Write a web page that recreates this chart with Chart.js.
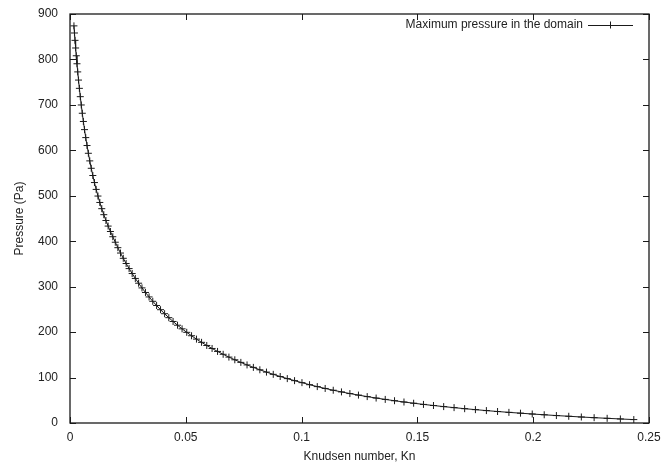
<!DOCTYPE html>
<html>
<head>
<meta charset="utf-8">
<script src="https://cdn.jsdelivr.net/npm/chart.js@4.4.0/dist/chart.umd.min.js"></script>
<style>
	body { margin: 0; background: #fff; }
</style>
</head>
<body>
<canvas id="mycanvas" width="662" height="464"></canvas>
<script>
// Knudsen number of each run and the maximum pressure found in the domain (Pa)
var knudsen = [0.001702, 0.001925, 0.002167, 0.002428, 0.002709, 0.003011, 0.003335, 0.003681, 0.004050, 0.004443,
	0.004861, 0.005304, 0.005774, 0.006270, 0.006794, 0.007347, 0.007928, 0.008540, 0.009182, 0.009855,
	0.010561, 0.011300, 0.012072, 0.012879, 0.013720, 0.014598, 0.015513, 0.016465, 0.017455, 0.018483,
	0.019552, 0.020661, 0.021811, 0.023003, 0.024238, 0.025516, 0.026838, 0.028205, 0.029618, 0.031078,
	0.032584, 0.034138, 0.035741, 0.037394, 0.039096, 0.040850, 0.042655, 0.044512, 0.046423, 0.048388,
	0.050407, 0.052482, 0.054612, 0.056800, 0.059046, 0.061349, 0.063712, 0.066135, 0.068619, 0.071164,
	0.073771, 0.076441, 0.079174, 0.081973, 0.084836, 0.087765, 0.090761, 0.093824, 0.096955, 0.100156,
	0.103426, 0.106766, 0.110178, 0.113661, 0.117217, 0.120847, 0.124550, 0.128329, 0.132183, 0.136114,
	0.140122, 0.144207, 0.148372, 0.152616, 0.156940, 0.161344, 0.165831, 0.170400, 0.175052, 0.179788,
	0.184609, 0.189515, 0.194507, 0.199586, 0.204753, 0.210008, 0.215352, 0.220787, 0.226312, 0.231928,
	0.237637, 0.243438];
var pressure = [873.9, 858.2, 842.0, 825.2, 808.1, 790.5, 772.6, 754.6, 736.4, 718.1,
	699.8, 681.6, 663.5, 645.6, 628.0, 610.6, 593.5, 576.8, 560.5, 544.6,
	529.1, 514.0, 499.4, 485.3, 471.6, 458.4, 445.6, 433.3, 421.4, 409.9,
	397.8, 385.8, 374.0, 362.4, 351.0, 339.8, 328.9, 318.1, 307.6, 297.3,
	287.2, 277.4, 267.8, 258.5, 249.3, 240.5, 231.8, 223.4, 215.2, 207.2,
	199.5, 192.0, 184.6, 177.5, 170.6, 164.0, 157.5, 151.2, 145.0, 139.1,
	133.4, 127.8, 122.4, 117.1, 112.0, 107.1, 102.3, 97.7, 93.2, 88.8,
	84.3, 80.1, 76.0, 72.1, 68.4, 64.8, 61.4, 58.1, 54.9, 51.9,
	49.0, 46.2, 43.5, 40.9, 38.5, 36.1, 33.8, 31.5, 29.4, 27.3,
	25.3, 23.4, 21.6, 19.8, 18.1, 16.4, 14.8, 13.2, 11.7, 10.3,
	8.9, 7.5];

var xTicks = [0, 0.05, 0.1, 0.15, 0.2, 0.25];
var xTickLabels = ["0", "0.05", "0.1", "0.15", "0.2", "0.25"];
var yTicks = [0, 100, 200, 300, 400, 500, 600, 700, 800, 900];
var yTickLabels = ["0", "100", "200", "300", "400", "500", "600", "700", "800", "900"];
var seriesLabel = "Maximum pressure in the domain";

var ink = "#1a1a1a";
Chart.defaults.font.family = "'Liberation Sans', Arial, sans-serif";
Chart.defaults.font.size = 12;
Chart.defaults.color = "#222";

var points = [];
for (var i in knudsen) {
	points.push({x: knudsen[i], y: pressure[i]});
}

// border, inward ticks on all four sides and the key in the top right corner
var frame = {
	id: "frame",
	afterDatasetsDraw: function(chart) {
		var ctx = chart.ctx;
		var a = chart.chartArea;
		var xs = chart.scales.x, ys = chart.scales.y;
		var tl = 6;
		ctx.save();
		ctx.strokeStyle = ink;
		ctx.lineWidth = 1;
		ctx.beginPath();
		yTicks.forEach(function(v) {
			var py = Math.round(ys.getPixelForValue(v)) + 0.5;
			ctx.moveTo(a.left, py); ctx.lineTo(a.left + tl, py);
			ctx.moveTo(a.right, py); ctx.lineTo(a.right - tl, py);
		});
		xTicks.forEach(function(v) {
			var px = Math.round(xs.getPixelForValue(v)) + 0.5;
			ctx.moveTo(px, a.bottom); ctx.lineTo(px, a.bottom - tl);
			ctx.moveTo(px, a.top); ctx.lineTo(px, a.top + tl);
		});
		ctx.stroke();
		ctx.lineWidth = 1.3;
		ctx.strokeRect(a.left, a.top, a.right - a.left, a.bottom - a.top);

		// key
		var ky = a.top + 11;
		var x1 = a.right - 61, x2 = a.right - 16;
		ctx.fillStyle = "#222";
		ctx.font = "12px 'Liberation Sans', Arial, sans-serif";
		ctx.textAlign = "right";
		ctx.textBaseline = "middle";
		ctx.fillText(chart.data.datasets[0].label, x1 - 5, ky);
		ctx.lineWidth = 1;
		ctx.beginPath();
		ctx.moveTo(x1, ky + 0.5); ctx.lineTo(x2, ky + 0.5);
		var cx = (x1 + x2) / 2;
		ctx.moveTo(cx, ky - 3.5); ctx.lineTo(cx, ky + 3.5);
		ctx.stroke();
		ctx.restore();
	}
};

var ctx = document.getElementById("mycanvas");
var chart = new Chart(ctx, {
	type: "line",
	data: {
		datasets: [{
			label: seriesLabel,
			data: points,
			borderColor: ink,
			borderWidth: 1,
			backgroundColor: ink,
			pointStyle: "cross",
			pointRadius: 3.5,
			pointBorderWidth: 1,
			pointBorderColor: ink,
			tension: 0,
			fill: false
		}]
	},
	options: {
		responsive: false,
		animation: false,
		devicePixelRatio: 1,
		events: [],
		layout: { padding: { top: 14, right: 13, left: 0, bottom: 0 } },
		plugins: { legend: { display: false }, tooltip: { enabled: false } },
		scales: {
			x: {
				type: "linear",
				min: 0,
				max: 0.25,
				grid: { display: false, drawTicks: false },
				border: { display: false },
				afterBuildTicks: function(scale) {
					scale.ticks = xTicks.map(function(v) { return {value: v}; });
				},
				afterFit: function(scale) {
					scale.height = 41;
					scale.paddingLeft = 0;
					scale.paddingRight = 0;
				},
				ticks: {
					padding: 7,
					maxRotation: 0,
					autoSkip: false,
					callback: function(value) { return xTickLabels[xTicks.indexOf(value)]; }
				},
				title: {
					display: true,
					text: "Knudsen number, Kn",
					padding: { top: 0, bottom: 0 }
				}
			},
			y: {
				type: "linear",
				min: 0,
				max: 900,
				grid: { display: false, drawTicks: false },
				border: { display: false },
				afterBuildTicks: function(scale) {
					scale.ticks = yTicks.map(function(v) { return {value: v}; });
				},
				afterFit: function(scale) {
					scale.width = 70;
					scale.paddingTop = 0;
					scale.paddingBottom = 0;
				},
				ticks: {
					padding: 12,
					autoSkip: false,
					callback: function(value) { return yTickLabels[yTicks.indexOf(value)]; }
				},
				title: {
					display: true,
					text: "Pressure (Pa)",
					padding: { top: 12, bottom: 0 }
				}
			}
		}
	},
	plugins: [frame]
});
</script>
</body>
</html>
